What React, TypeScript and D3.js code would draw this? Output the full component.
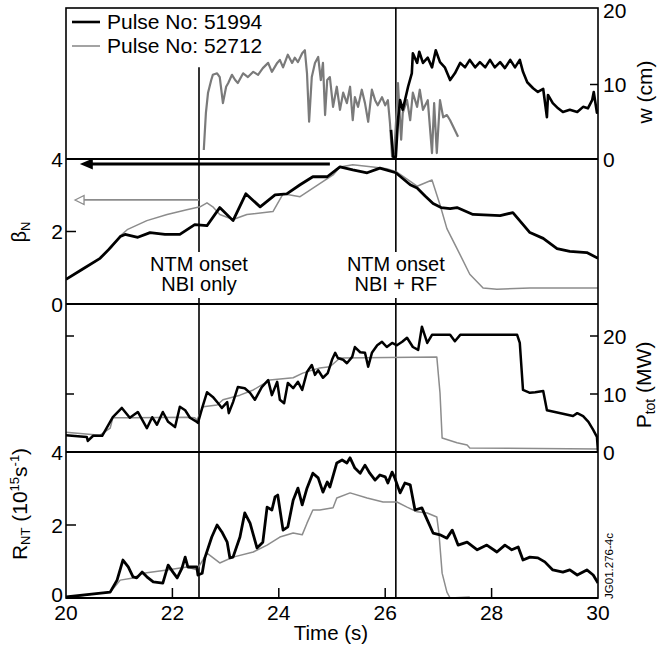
import React from 'react';
import * as d3 from 'd3';

// ---------- data (time in s) ----------
const timeTicks = [20, 22, 24, 26, 28, 30];
const wTickLabels = [0, 10, 20];
const betaTickLabels = [0, 2, 4];
const pTickLabels = [0, 10, 20];
const rTickLabels = [0, 2, 4];
const legendLabels = ['Pulse No: 51994', 'Pulse No: 52712'];
const ntmOnsetTimes = [22.5, 26.2];
const ntmLabels = [['NTM onset', 'NBI only'], ['NTM onset', 'NBI + RF']];
const ntmLineTopW = [12.3, 20.3]; // where each onset line starts in the w panel
const betaArrow51994 = { level: 3.86, from: 24.96, to: 20.26 };
const betaArrow52712 = { level: 2.87, from: 22.5, to: 20.17 };

// island width w (cm)
const w51994: [number, number][] = [
  [26.11, 3.9], [26.15, 0.3], [26.2, 0.3], [26.24, 5.2], [26.28, 7.9], [26.33, 6.6], [26.43, 9.7],
  [26.5, 11.5], [26.52, 14.2], [26.6, 12.9], [26.64, 14.4], [26.71, 12.9], [26.8, 13.6], [26.88, 12.3],
  [26.95, 14.6], [27.03, 13.0], [27.12, 12.3], [27.22, 10.6], [27.31, 11.5], [27.41, 12.9], [27.5, 12.3],
  [27.59, 13.3], [27.69, 12.3], [27.78, 13.0], [27.88, 12.3], [27.97, 13.3], [28.06, 12.3], [28.16, 13.0],
  [28.25, 12.2], [28.35, 13.3], [28.44, 12.3], [28.53, 13.3], [28.59, 11.7], [28.67, 10.3], [28.78, 9.5],
  [28.87, 9.0], [28.97, 9.4], [29.04, 5.6], [29.06, 8.6], [29.15, 7.5], [29.25, 6.8], [29.34, 6.3],
  [29.47, 6.6], [29.61, 6.3], [29.72, 7.0], [29.81, 6.8], [29.89, 7.9], [29.92, 9.0], [29.98, 6.2], [30.0, 6.6],
];
const w52712: [number, number][] = [
  [22.59, 1.2], [22.63, 6.2], [22.67, 8.9], [22.73, 10.6], [22.76, 11.3], [22.84, 11.5], [22.89, 11.0],
  [22.95, 7.5], [23.01, 9.7], [23.05, 10.2], [23.12, 11.3], [23.18, 10.6], [23.23, 10.2], [23.33, 11.5],
  [23.42, 11.0], [23.52, 11.7], [23.61, 11.3], [23.7, 12.2], [23.8, 12.9], [23.87, 11.7], [23.97, 12.9],
  [24.02, 13.3], [24.08, 12.3], [24.17, 14.0], [24.25, 12.9], [24.3, 13.6], [24.36, 13.0], [24.44, 14.2],
  [24.49, 14.6], [24.53, 11.5], [24.57, 5.0], [24.62, 11.0], [24.68, 12.9], [24.74, 13.7], [24.79, 10.6],
  [24.83, 12.9], [24.87, 5.9], [24.91, 10.6], [24.96, 11.0], [25.02, 7.0], [25.09, 9.7], [25.15, 6.6],
  [25.21, 8.9], [25.28, 7.5], [25.34, 9.7], [25.39, 5.2], [25.43, 8.3], [25.49, 7.0], [25.56, 9.3],
  [25.62, 7.5], [25.68, 5.0], [25.75, 9.3], [25.81, 7.9], [25.86, 7.2], [25.94, 8.3], [26.0, 7.2],
  [26.05, 7.9], [26.09, 4.8], [26.13, 0.3], [26.17, 0.8], [26.22, 7.0], [26.24, 10.2], [26.3, 2.6],
  [26.33, 6.2], [26.41, 7.9], [26.47, 5.2], [26.52, 8.9], [26.6, 7.0], [26.65, 9.3], [26.71, 6.6],
  [26.8, 7.9], [26.88, 0.8], [26.92, 7.5], [26.97, 0.8], [27.03, 7.9], [27.09, 5.6], [27.16, 5.9],
  [27.22, 5.2], [27.37, 3.0],
];

// normalised beta
const beta51994: [number, number][] = [
  [20.0, 0.68], [20.3, 0.95], [20.64, 1.26], [20.8, 1.5], [21.02, 1.86], [21.11, 1.92], [21.35, 1.84],
  [21.58, 1.97], [21.86, 1.92], [22.14, 1.92], [22.42, 2.19], [22.65, 2.16], [22.89, 2.66], [23.14, 2.3],
  [23.38, 3.04], [23.65, 2.68], [23.93, 3.01], [24.15, 3.04], [24.4, 3.29], [24.64, 3.51], [24.91, 3.51],
  [25.15, 3.78], [25.39, 3.7], [25.66, 3.62], [25.9, 3.75], [26.2, 3.62], [26.47, 3.29], [26.6, 3.2],
  [26.75, 2.98], [26.9, 2.77], [27.05, 2.66], [27.22, 2.63], [27.35, 2.66], [27.65, 2.47], [28.16, 2.44],
  [28.4, 2.52], [28.72, 1.97], [28.97, 1.81], [29.23, 1.53], [29.47, 1.45], [29.79, 1.42], [30.0, 1.26],
];
const beta52712: [number, number][] = [
  [20.0, 0.68], [20.3, 0.95], [20.64, 1.26], [20.85, 1.55], [21.02, 1.88], [21.15, 2.05], [21.52, 2.3],
  [21.9, 2.47], [22.27, 2.6], [22.52, 2.68], [22.65, 2.79], [22.76, 2.68], [22.89, 2.47], [23.14, 2.33],
  [23.4, 2.47], [23.89, 2.55], [24.08, 3.04], [24.4, 2.96], [24.77, 3.32], [25.02, 3.56], [25.15, 3.78],
  [25.39, 3.84], [25.77, 3.78], [26.03, 3.73], [26.22, 3.64], [26.6, 3.25], [26.88, 3.42], [27.03, 2.74],
  [27.16, 2.08], [27.35, 1.53], [27.59, 0.82], [27.84, 0.44], [28.1, 0.41], [28.72, 0.44], [29.34, 0.44],
  [30.0, 0.44],
];

// total heating power (MW)
const p51994: [number, number][] = [
  [20.0, 2.9], [20.39, 2.6], [20.41, 1.9], [20.51, 2.8], [20.68, 2.8], [20.88, 6.0], [21.05, 7.6],
  [21.2, 5.9], [21.35, 6.9], [21.52, 4.1], [21.62, 6.0], [21.71, 4.7], [21.82, 6.9], [21.92, 5.2],
  [22.05, 4.3], [22.14, 7.8], [22.24, 7.2], [22.33, 5.9], [22.46, 5.2], [22.48, 5.0], [22.56, 7.6],
  [22.65, 10.3], [22.76, 9.5], [22.86, 8.4], [22.93, 7.6], [23.03, 8.6], [23.06, 6.7], [23.14, 8.6],
  [23.23, 11.2], [23.36, 11.0], [23.46, 10.2], [23.55, 9.0], [23.68, 11.2], [23.8, 12.4], [23.87, 9.8],
  [23.97, 12.1], [24.02, 9.0], [24.1, 8.4], [24.17, 11.9], [24.27, 11.0], [24.36, 12.1], [24.44, 10.7],
  [24.53, 13.8], [24.62, 15.0], [24.68, 13.3], [24.74, 14.1], [24.83, 12.8], [24.92, 13.6], [25.0, 15.9],
  [25.06, 17.1], [25.11, 16.2], [25.21, 15.9], [25.28, 15.3], [25.38, 16.4], [25.43, 18.1], [25.53, 17.2],
  [25.62, 17.1], [25.68, 14.7], [25.75, 17.1], [25.85, 18.4], [25.94, 19.0], [26.03, 18.1], [26.13, 18.8],
  [26.22, 18.4], [26.32, 19.0], [26.41, 19.7], [26.52, 18.1], [26.62, 17.6], [26.69, 21.6], [26.79, 18.8],
  [26.88, 20.2], [27.22, 20.2], [27.31, 19.1], [27.41, 20.2], [28.48, 20.2], [28.53, 18.8], [28.59, 10.7],
  [28.72, 10.2], [28.82, 10.3], [28.97, 10.5], [29.04, 7.2], [29.34, 6.6], [29.53, 6.2], [29.61, 6.7],
  [29.72, 6.2], [29.82, 5.2], [29.91, 3.8], [29.98, 2.6], [30.0, 0.0],
];
const p52712: [number, number][] = [
  [20.0, 3.4], [20.64, 2.9], [20.83, 4.1], [20.88, 5.9], [21.26, 5.9], [22.27, 6.0], [22.42, 5.9],
  [22.46, 5.5], [22.58, 7.8], [22.84, 8.1], [22.95, 9.0], [23.27, 9.8], [23.52, 10.7], [23.83, 12.4],
  [24.27, 12.8], [24.45, 13.6], [24.77, 14.5], [24.96, 14.7], [25.15, 16.2], [26.97, 16.4], [27.03, 10.2],
  [27.07, 2.4], [27.35, 1.6], [27.54, 1.2], [27.59, 0.7], [30.0, 0.5],
];

// neutron rate (1e15 /s)
const r51994: [number, number][] = [
  [20.0, 0.03], [20.83, 0.16], [20.96, 0.49], [21.07, 1.04], [21.17, 0.85], [21.26, 0.58], [21.33, 0.55],
  [21.43, 0.71], [21.52, 0.58], [21.64, 0.44], [21.82, 0.41], [21.92, 0.9], [22.01, 0.71], [22.09, 0.55],
  [22.18, 0.82], [22.24, 1.12], [22.29, 0.85], [22.46, 0.85], [22.48, 0.63], [22.56, 0.68], [22.61, 1.1],
  [22.74, 1.67], [22.84, 2.0], [22.93, 1.81], [23.03, 1.53], [23.08, 1.1], [23.14, 1.12], [23.27, 1.67],
  [23.36, 2.33], [23.46, 2.05], [23.59, 1.37], [23.7, 1.53], [23.78, 2.49], [23.87, 2.41], [23.93, 2.77],
  [23.98, 2.82], [24.08, 1.86], [24.17, 1.95], [24.27, 2.68], [24.36, 3.01], [24.44, 2.55], [24.53, 3.01],
  [24.64, 3.42], [24.74, 3.29], [24.83, 2.9], [24.91, 3.18], [24.96, 3.04], [25.09, 3.7], [25.19, 3.78],
  [25.28, 3.7], [25.34, 3.84], [25.43, 3.56], [25.53, 3.42], [25.62, 3.64], [25.71, 3.42], [25.81, 3.23],
  [25.9, 3.37], [26.0, 3.32], [26.05, 3.15], [26.13, 3.45], [26.18, 3.29], [26.28, 2.88], [26.37, 3.15],
  [26.47, 3.1], [26.56, 2.41], [26.69, 2.47], [26.79, 2.14], [26.9, 1.78], [27.03, 1.73], [27.16, 1.64],
  [27.26, 1.86], [27.37, 1.45], [27.54, 1.53], [27.73, 1.32], [27.91, 1.45], [28.1, 1.26], [28.25, 1.45],
  [28.38, 1.32], [28.5, 1.4], [28.59, 1.04], [28.72, 1.12], [28.87, 1.1], [29.0, 0.99], [29.15, 0.77],
  [29.34, 0.71], [29.47, 0.77], [29.61, 0.63], [29.79, 0.77], [29.91, 0.63], [30.0, 0.41],
];
const r52712: [number, number][] = [
  [20.0, 0.0], [20.64, 0.14], [20.83, 0.16], [21.02, 0.49], [21.26, 0.55], [21.45, 0.68], [21.9, 0.77],
  [22.27, 0.85], [22.46, 0.77], [22.65, 1.23], [22.89, 0.96], [23.14, 1.12], [23.52, 1.26], [23.78, 1.45],
  [24.02, 1.67], [24.27, 1.78], [24.44, 1.73], [24.53, 2.05], [24.64, 2.41], [24.77, 2.41], [25.02, 2.47],
  [25.09, 2.74], [25.34, 2.88], [25.66, 2.74], [25.96, 2.63], [26.22, 2.63], [26.41, 2.49], [26.6, 2.36],
  [26.79, 2.33], [26.97, 2.22], [27.01, 1.78], [27.07, 0.68], [27.16, 0.16], [27.22, 0.0], [27.59, 0.03],
];

const FONT = "'Liberation Sans', Arial, Helvetica, sans-serif";
const BLACK = '#000';
const GRAY = '#8c8c8c';

export default function App() {
  const left = 66;
  const right = 598;
  const tops = [8, 159, 304, 452];
  const bottom = 598;

  const x = d3.scaleLinear().domain([20, 30]).range([left, right]);
  const yW = d3.scaleLinear().domain([0, 20]).range([159, 10]);
  const yB = d3.scaleLinear().domain([0, 4]).range([304, 159]);
  const yP = d3.scaleLinear().domain([0, 20]).range([452, 336]);
  const yR = d3.scaleLinear().domain([0, 4]).range([598, 452]);

  const mk = (ys: d3.ScaleLinear<number, number>) =>
    d3.line<[number, number]>().x((d) => x(d[0])).y((d) => ys(d[1]));

  const panelBounds = [
    [tops[0], tops[1]],
    [tops[1], tops[2]],
    [tops[2], tops[3]],
    [tops[3], bottom],
  ];

  const tickFont = 21;

  return (
    <svg
      width={658}
      height={653}
      style={{ position: 'absolute', left: 0, top: 0, background: '#fff' }}
      fontFamily={FONT}
    >
      <rect x={0} y={0} width={658} height={653} fill="#fff" />
      <defs>
        {panelBounds.map(([t, b], i) => (
          <clipPath id={`clip${i}`} key={i}>
            <rect x={left} y={t} width={right - left} height={b - t} />
          </clipPath>
        ))}
      </defs>

      {/* NTM onset vertical lines (broken around labels) */}
      {ntmOnsetTimes.map((t, i) => (
        <g key={`ntm${i}`} stroke={BLACK} strokeWidth={1.6}>
          <line x1={x(t)} x2={x(t)} y1={yW(ntmLineTopW[i])} y2={252} />
          <line x1={x(t)} x2={x(t)} y1={298} y2={bottom} />
        </g>
      ))}
      {ntmOnsetTimes.map((t, i) => (
        <g key={`ntmt${i}`}>
          <text x={x(t)} y={271} textAnchor="middle" fontSize={20}>{ntmLabels[i][0]}</text>
          <text x={x(t)} y={291} textAnchor="middle" fontSize={20}>{ntmLabels[i][1]}</text>
        </g>
      ))}

      {/* series */}
      <g clipPath="url(#clip0)" fill="none" strokeLinejoin="round">
        <path d={mk(yW)(w52712) || ''} stroke="#7a7a7a" strokeWidth={2.2} />
        <path d={mk(yW)(w51994) || ''} stroke={BLACK} strokeWidth={2.6} />
      </g>
      <g clipPath="url(#clip1)" fill="none" strokeLinejoin="round">
        <path d={mk(yB)(beta52712) || ''} stroke={GRAY} strokeWidth={1.5} />
        <path d={mk(yB)(beta51994) || ''} stroke={BLACK} strokeWidth={2.8} />
      </g>
      <g clipPath="url(#clip2)" fill="none" strokeLinejoin="round">
        <path d={mk(yP)(p52712) || ''} stroke={GRAY} strokeWidth={1.5} />
        <path d={mk(yP)(p51994) || ''} stroke={BLACK} strokeWidth={2.5} />
      </g>
      <g clipPath="url(#clip3)" fill="none" strokeLinejoin="round">
        <path d={mk(yR)(r52712) || ''} stroke={GRAY} strokeWidth={1.5} />
        <path d={mk(yR)(r51994) || ''} stroke={BLACK} strokeWidth={2.8} />
      </g>

      {/* beta_max arrows */}
      <line
        x1={x(betaArrow51994.from)}
        x2={x(betaArrow51994.to) + 10}
        y1={yB(betaArrow51994.level)}
        y2={yB(betaArrow51994.level)}
        stroke={BLACK}
        strokeWidth={3}
      />
      <polygon
        points={`${x(betaArrow51994.to)},${yB(betaArrow51994.level)} ${x(betaArrow51994.to) + 13},${yB(betaArrow51994.level) - 5.5} ${x(betaArrow51994.to) + 13},${yB(betaArrow51994.level) + 5.5}`}
        fill={BLACK}
      />
      <line
        x1={x(betaArrow52712.from)}
        x2={x(betaArrow52712.to) + 8}
        y1={yB(betaArrow52712.level)}
        y2={yB(betaArrow52712.level)}
        stroke={GRAY}
        strokeWidth={1.8}
      />
      <polygon
        points={`${x(betaArrow52712.to)},${yB(betaArrow52712.level)} ${x(betaArrow52712.to) + 9},${yB(betaArrow52712.level) - 4.5} ${x(betaArrow52712.to) + 9},${yB(betaArrow52712.level) + 4.5}`}
        fill="#fff"
        stroke={GRAY}
        strokeWidth={1.3}
      />

      {/* frame and panel dividers */}
      <rect x={left} y={tops[0]} width={right - left} height={bottom - tops[0]} fill="none" stroke={BLACK} strokeWidth={1.6} />
      {tops.slice(1).map((t, i) => (
        <line key={`div${i}`} x1={left} x2={right} y1={t} y2={t} stroke={BLACK} strokeWidth={2} />
      ))}
      <line x1={left} x2={right} y1={bottom} y2={bottom} stroke={BLACK} strokeWidth={2.2} />

      {/* ticks */}
      {timeTicks.slice(1, -1).map((t) => (
        <line key={`xt${t}`} x1={x(t)} x2={x(t)} y1={bottom} y2={bottom - 10} stroke={BLACK} strokeWidth={1.5} />
      ))}
      {timeTicks.map((t) => (
        <text key={`xl${t}`} x={x(t)} y={620} textAnchor="middle" fontSize={tickFont}>{t}</text>
      ))}
      <line x1={left} x2={left + 10} y1={yB(2)} y2={yB(2)} stroke={BLACK} strokeWidth={1.5} />
      <line x1={left} x2={left + 10} y1={yR(2)} y2={yR(2)} stroke={BLACK} strokeWidth={1.5} />
      {[10, 20].map((v) => (
        <line key={`plt${v}`} x1={left} x2={left + 8} y1={yP(v)} y2={yP(v)} stroke={BLACK} strokeWidth={1.5} />
      ))}
      {[10, 20].map((v) => (
        <line key={`prt${v}`} x1={right - 8} x2={right} y1={yP(v)} y2={yP(v)} stroke={BLACK} strokeWidth={1.5} />
      ))}
      <line x1={right - 8} x2={right} y1={yW(10)} y2={yW(10)} stroke={BLACK} strokeWidth={1.5} />

      {betaTickLabels.map((v) => (
        <text key={`bl${v}`} x={63} y={yB(v)} dy="0.36em" textAnchor="end" fontSize={tickFont}>{v}</text>
      ))}
      {rTickLabels.map((v) => (
        <text key={`rl${v}`} x={63} y={v === 0 ? yR(v) - 4 : yR(v)} dy="0.36em" textAnchor="end" fontSize={tickFont}>{v}</text>
      ))}
      {wTickLabels.map((v) => (
        <text key={`wl${v}`} x={603} y={yW(v)} dy="0.36em" textAnchor="start" fontSize={tickFont}>{v}</text>
      ))}
      {pTickLabels.map((v) => (
        <text key={`pl${v}`} x={603} y={yP(v)} dy="0.36em" textAnchor="start" fontSize={tickFont}>{v}</text>
      ))}

      {/* axis titles */}
      <text transform="translate(652,92) rotate(-90)" textAnchor="middle" fontSize={21}>w (cm)</text>
      <text transform="translate(651,385) rotate(-90)" textAnchor="middle" fontSize={21}>
        P<tspan fontSize={14} dy={4}>tot</tspan>
        <tspan dy={-4}> (MW)</tspan>
      </text>
      <text transform="translate(26,232) rotate(-90)" textAnchor="middle" fontSize={20}>
        β<tspan fontSize={13} dy={4}>N</tspan>
      </text>
      <text transform="translate(27,504) rotate(-90)" textAnchor="middle" fontSize={21}>
        R<tspan fontSize={13} dy={3}>NT</tspan>
        <tspan dy={-3}> (10</tspan>
        <tspan fontSize={13} dy={-8}>15</tspan>
        <tspan dy={8}>s</tspan>
        <tspan fontSize={13} dy={-8}>-1</tspan>
        <tspan dy={8}>)</tspan>
      </text>
      <text x={331} y={640} textAnchor="middle" fontSize={20.5}>Time (s)</text>
      <text transform="translate(613,566) rotate(-90)" textAnchor="middle" fontSize={11.5}>JG01.276-4c</text>

      {/* legend */}
      <line x1={72} x2={100} y1={22} y2={22} stroke={BLACK} strokeWidth={2.6} />
      <text x={107} y={29} fontSize={21}>{legendLabels[0]}</text>
      <line x1={72} x2={100} y1={46} y2={46} stroke={GRAY} strokeWidth={1.6} />
      <text x={107} y={53} fontSize={21}>{legendLabels[1]}</text>
    </svg>
  );
}
